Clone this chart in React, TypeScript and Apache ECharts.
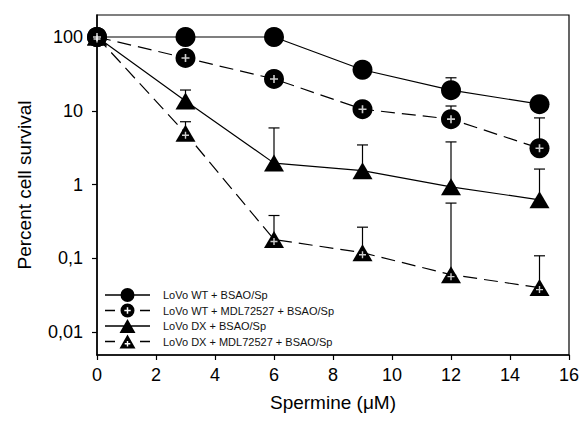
import React, { useEffect, useRef } from 'react';
import * as echarts from 'echarts';

// ---- data ----
const spermine = [0, 3, 6, 9, 12, 15];
const wt = [100, 100, 100, 36, 19, 12.3];
const wtErr = [0, 0, 0, 0, 9, 0];
const wtMdl = [100, 52, 27, 10.5, 7.7, 3.1];
const wtMdlErr = [0, 0, 0, 0, 3.9, 4.9];
const dx = [100, 13.6, 1.95, 1.54, 0.93, 0.62];
const dxErr = [0, 5.5, 3.9, 1.9, 2.85, 1.0];
const dxMdl = [100, 4.95, 0.18, 0.119, 0.06, 0.04];
const dxMdlErr = [0, 2.15, 0.2, 0.145, 0.5, 0.068];

const yTickValues = [0.01, 0.1, 1, 10, 100];
const yTickLabels = ['0,01', '0,1', '1', '10', '100'];
const seriesNames = [
  'LoVo WT + BSAO/Sp',
  'LoVo WT + MDL72527 + BSAO/Sp',
  'LoVo DX + BSAO/Sp',
  'LoVo DX + MDL72527 + BSAO/Sp',
];

const FONT = 'Liberation Sans, Arial, sans-serif';

function plusHole(cx: number, cy: number, a: number, t: number) {
  const p = [
    [cx - t, cy - a], [cx - t, cy - t], [cx - a, cy - t], [cx - a, cy + t],
    [cx - t, cy + t], [cx - t, cy + a], [cx + t, cy + a], [cx + t, cy + t],
    [cx + a, cy + t], [cx + a, cy - t], [cx + t, cy - t], [cx + t, cy - a],
  ];
  return 'M' + p.map((q) => q[0] + ' ' + q[1]).join('L') + 'Z';
}

const circlePath = 'M15.5 7A7 7 0 1 1 29.5 7A7 7 0 1 1 15.5 7Z';
const triPath = 'M22.5 0L30.5 14L14.5 14Z';
const fullLine = 'M0 6.35H45V7.65H0Z';
const dashLine = 'M0 6.35H10V7.65H0Z M35 6.35H45V7.65H35Z';
const legendIcons = [
  'path://' + fullLine + ' ' + circlePath,
  'path://' + dashLine + ' ' + circlePath + ' ' + plusHole(22.5, 7, 3.2, 0.75),
  'path://' + fullLine + ' ' + triPath,
  'path://' + dashLine + ' ' + triPath + ' ' + plusHole(22.5, 9.3, 2.8, 0.7),
];

const plusSymbol = 'path://M3.2 0H4.8V3.2H8V4.8H4.8V8H3.2V4.8H0V3.2H3.2Z';

export default function App() {
  const ref = useRef<HTMLDivElement>(null);
  useEffect(() => {
    if (!ref.current) return;
    const chart = echarts.init(ref.current, undefined, { renderer: 'svg' });
    const vals = [wt, wtMdl, dx, dxMdl];
    const errs = [wtErr, wtMdlErr, dxErr, dxMdlErr];
    const errData: number[][] = [];
    vals.forEach((v, s) => {
      v.forEach((y, i) => {
        if (errs[s][i] > 0) errData.push([spermine[i], y, y + errs[s][i]]);
      });
    });
    const pts = (v: number[]) => spermine.map((x, i) => [x, v[i]]);
    const dashed = [14, 7];
    const lineSeries = vals.map((v, s) => ({
      name: seriesNames[s],
      type: 'line',
      data: pts(v),
      symbol: s < 2 ? 'circle' : 'triangle',
      symbolSize: s < 2 ? 20 : [20, 17],
      showSymbol: true,
      z: 3,
      lineStyle: { color: '#000', width: 1.2, type: s % 2 === 1 ? dashed : 'solid' },
      itemStyle: { color: '#000', borderWidth: 0 },
      emphasis: { disabled: true },
    }));
    const option: any = {
      animation: false,
      backgroundColor: '#fff',
      textStyle: { fontFamily: FONT },
      grid: {
        left: 97, right: 10, top: 15, bottom: 71,
        show: true, borderColor: '#000', borderWidth: 1.2,
        containLabel: false, outerBoundsMode: 'none',
      },
      legend: {
        orient: 'vertical',
        left: 105, top: 288,
        padding: 0,
        itemWidth: 45, itemHeight: 14, itemGap: 1.5,
        selectedMode: false,
        itemStyle: { color: '#000', borderWidth: 0 },
        textStyle: { fontSize: 11, color: '#111', fontFamily: FONT, padding: [0, 0, 0, 8] },
        data: seriesNames.map((n, i) => ({ name: n, icon: legendIcons[i] })),
      },
      xAxis: {
        type: 'value', min: 0, max: 16, interval: 2,
        axisLine: { show: true, lineStyle: { color: '#000', width: 1.5 } },
        axisTick: { show: true, inside: false, length: 5, lineStyle: { color: '#000', width: 1.2 } },
        axisLabel: { fontSize: 18, color: '#000', margin: 11, fontFamily: FONT },
        splitLine: { show: false },
        name: 'Spermine (\u03BCM)', nameLocation: 'middle', nameGap: 38,
        nameTextStyle: { fontSize: 19, color: '#000', fontFamily: FONT },
      },
      yAxis: {
        type: 'log', logBase: 10, min: 0.00488, max: 198.8,
        axisLine: { show: true, lineStyle: { color: '#000', width: 1.5 } },
        axisTick: { show: true, inside: false, length: 5, customValues: yTickValues, lineStyle: { color: '#000', width: 1.2 } },
        axisLabel: {
          customValues: yTickValues,
          fontSize: 18, color: '#000', margin: 14, fontFamily: FONT,
          formatter: (v: number) => {
            const k = yTickValues.findIndex((t) => Math.abs(Math.log10(t) - Math.log10(v)) < 0.01);
            return k >= 0 ? yTickLabels[k] : '';
          },
        },
        splitLine: { show: false },
        minorTick: { show: false },
        name: 'Percent cell survival', nameLocation: 'middle', nameGap: 63,
        nameTextStyle: { fontSize: 19, color: '#000', fontFamily: FONT },
      },
      series: [
        {
          type: 'custom',
          name: 'errors',
          z: 1,
          silent: true,
          data: errData,
          renderItem: (params: any, api: any) => {
            const x = api.value(0);
            const base = api.coord([x, api.value(1)]);
            const top = api.coord([x, api.value(2)]);
            const st = { stroke: '#000', lineWidth: 1.2 };
            return {
              type: 'group',
              children: [
                { type: 'line', shape: { x1: base[0], y1: base[1], x2: top[0], y2: top[1] }, style: st },
                { type: 'line', shape: { x1: top[0] - 5.5, y1: top[1], x2: top[0] + 5.5, y2: top[1] }, style: st },
              ],
            };
          },
        },
        ...lineSeries,
        {
          type: 'scatter', name: 'plusWT', z: 6, silent: true,
          data: pts(wtMdl), symbol: plusSymbol, symbolSize: 8,
          itemStyle: { color: '#fff' },
        },
        {
          type: 'scatter', name: 'plusDX', z: 6, silent: true,
          data: pts(dxMdl), symbol: plusSymbol, symbolSize: 7, symbolOffset: [0, 2],
          itemStyle: { color: '#fff' },
        },
      ],
    };
    chart.setOption(option);
    return () => chart.dispose();
  }, []);
  return <div ref={ref} style={{ position: 'fixed', left: 0, top: 0, width: 579, height: 426 }} />;
}
